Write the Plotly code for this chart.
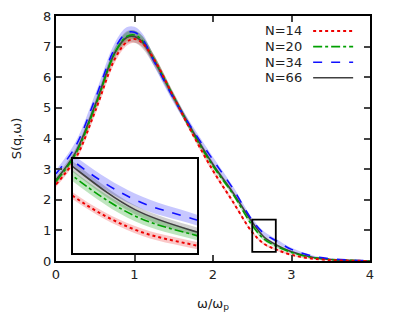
import plotly.graph_objects as go

# ---- data ----
omega = [0.0, 0.25, 0.5, 0.75, 0.9, 1.0, 1.1, 1.25, 1.5, 1.75, 2.0, 2.25,
         2.5, 2.65, 2.8, 3.0, 3.25, 3.5, 3.75, 4.0]

s_n14 = [2.50, 3.35, 4.90, 6.60, 7.15, 7.25, 7.12, 6.58, 5.35, 4.10, 2.95, 1.95,
         0.937, 0.56, 0.381, 0.20, 0.08, 0.03, 0.01, 0.0]
s_n20 = [2.60, 3.50, 5.05, 6.80, 7.33, 7.38, 7.20, 6.58, 5.35, 4.15, 3.10, 2.20,
         1.16, 0.714, 0.493, 0.28, 0.12, 0.05, 0.02, 0.0]
s_n34 = [2.85, 3.75, 5.30, 6.95, 7.45, 7.47, 7.25, 6.52, 5.30, 4.25, 3.30, 2.38,
         1.33, 0.895, 0.668, 0.38, 0.17, 0.07, 0.03, 0.01]
s_n66 = [2.65, 3.55, 5.10, 6.80, 7.30, 7.33, 7.15, 6.55, 5.35, 4.20, 3.15, 2.25,
         1.264, 0.784, 0.534, 0.30, 0.13, 0.05, 0.02, 0.0]

err_n14 = [0.08, 0.10, 0.12, 0.12, 0.12, 0.12, 0.12, 0.12, 0.10, 0.08, 0.07, 0.06,
           0.04, 0.04, 0.04, 0.03, 0.02, 0.01, 0.01, 0.01]
err_n20 = [0.10, 0.12, 0.14, 0.14, 0.14, 0.14, 0.14, 0.14, 0.12, 0.10, 0.08, 0.07,
           0.06, 0.06, 0.05, 0.04, 0.02, 0.01, 0.01, 0.01]
err_n34 = [0.12, 0.14, 0.16, 0.18, 0.18, 0.18, 0.18, 0.16, 0.14, 0.12, 0.10, 0.08,
           0.07, 0.07, 0.06, 0.05, 0.03, 0.02, 0.01, 0.01]
err_n66 = [0.10, 0.12, 0.16, 0.18, 0.20, 0.20, 0.20, 0.18, 0.14, 0.10, 0.08, 0.07,
           0.06, 0.05, 0.05, 0.04, 0.02, 0.01, 0.01, 0.01]

labels = ["N=14", "N=20", "N=34", "N=66"]
x_ticks = [0, 1, 2, 3, 4]
y_ticks = [0, 1, 2, 3, 4, 5, 6, 7, 8]
inset_x_range = [2.5, 2.8]
inset_y_range = [0.3, 1.35]

# ---- styles ----
series = [
    (labels[0], s_n14, err_n14, "#ee0000", "dot", 2.0, "rgba(230,0,0,0.22)"),
    (labels[1], s_n20, err_n20, "#00a000", "dashdot", 1.6, "rgba(0,150,0,0.25)"),
    (labels[2], s_n34, err_n34, "#1010ff", "dash", 1.6, "rgba(0,0,255,0.22)"),
    (labels[3], s_n66, err_n66, "#404040", "solid", 1.6, "rgba(0,0,0,0.18)"),
]
band_order = [2, 3, 1, 0]
legend_names = ["legend", "legend2", "legend3", "legend4"]

fig = go.Figure()

for xa, ya in (("x", "y"), ("x2", "y2")):
    for i in band_order:
        name, s, e, col, dash, w, band = series[i]
        upper = [v + d for v, d in zip(s, e)]
        lower = [v - d for v, d in zip(s, e)]
        fig.add_trace(go.Scatter(x=omega, y=upper, mode="lines", line=dict(width=0, shape="spline"),
                                 showlegend=False, hoverinfo="skip", xaxis=xa, yaxis=ya))
        fig.add_trace(go.Scatter(x=omega, y=lower, mode="lines", line=dict(width=0, shape="spline"),
                                 fill="tonexty", fillcolor=band, showlegend=False,
                                 hoverinfo="skip", xaxis=xa, yaxis=ya))
    for i in [3, 1, 2, 0]:
        name, s, e, col, dash, w, band = series[i]
        fig.add_trace(go.Scatter(x=omega, y=s, mode="lines", name=name,
                                 line=dict(color=col, dash=dash, width=w, shape="spline"),
                                 showlegend=False, xaxis=xa, yaxis=ya))

# legend samples (gnuplot style: text then line sample), one legend per row
for i in range(4):
    name, s, e, col, dash, w, band = series[i]
    fig.add_trace(go.Scatter(x=[None], y=[None], mode="lines", name="",
                             line=dict(color=col, dash=dash, width=w),
                             showlegend=True, legend=legend_names[i]))

axis_font = dict(family="DejaVu Sans", size=13, color="#222")

layout_legends = {}
for i, ln in enumerate(legend_names):
    layout_legends[ln] = dict(x=0.803, y=(261 - (31 + i * 15.6)) / 245,
                              xanchor="left", yanchor="middle",
                              bgcolor="rgba(0,0,0,0)", itemwidth=40,
                              font=dict(family="DejaVu Sans", size=10))

# the page body adds an 8px offset; margins compensate for it
fig.update_layout(
    width=395, height=327,
    margin=dict(l=48, r=33, t=8, b=74),
    paper_bgcolor="white", plot_bgcolor="white",
    font=axis_font,
    showlegend=True,
    xaxis=dict(range=[0, 4], tickvals=x_ticks, ticks="inside", ticklen=6, tickwidth=1.5,
               showline=True, linecolor="black", linewidth=2, mirror="allticks",
               showgrid=False, zeroline=False, automargin=False,
               title=dict(text="ω/ω<sub>p</sub>", font=axis_font, standoff=18)),
    yaxis=dict(range=[0, 8], tickvals=y_ticks, ticks="inside", ticklen=6, tickwidth=1.5,
               showline=True, linecolor="black", linewidth=2, mirror="allticks",
               showgrid=False, zeroline=False, automargin=False,
               title=dict(text="S(q,ω)", font=axis_font, standoff=19)),
    xaxis2=dict(domain=[0.054, 0.449], range=inset_x_range, anchor="y2",
                showticklabels=False, ticks="", showgrid=False, zeroline=False,
                showline=True, linecolor="black", linewidth=2, mirror=True),
    yaxis2=dict(domain=[0.033, 0.416], range=inset_y_range, anchor="x2",
                showticklabels=False, ticks="", showgrid=False, zeroline=False,
                showline=True, linecolor="black", linewidth=2, mirror=True),
    **layout_legends,
)

# zoom region marker on the main axes
fig.add_shape(type="rect", xref="x", yref="y",
              x0=inset_x_range[0], x1=inset_x_range[1],
              y0=inset_y_range[0], y1=inset_y_range[1],
              line=dict(color="black", width=1.8))

# legend labels placed left of the line samples
for i, name in enumerate(labels):
    fig.add_annotation(text=name, xref="paper", yref="paper", x=0.79,
                       y=(261 - (31 + i * 15.6)) / 245, xanchor="right", yanchor="middle",
                       showarrow=False, font=axis_font)

fig.write_html("out.html")
